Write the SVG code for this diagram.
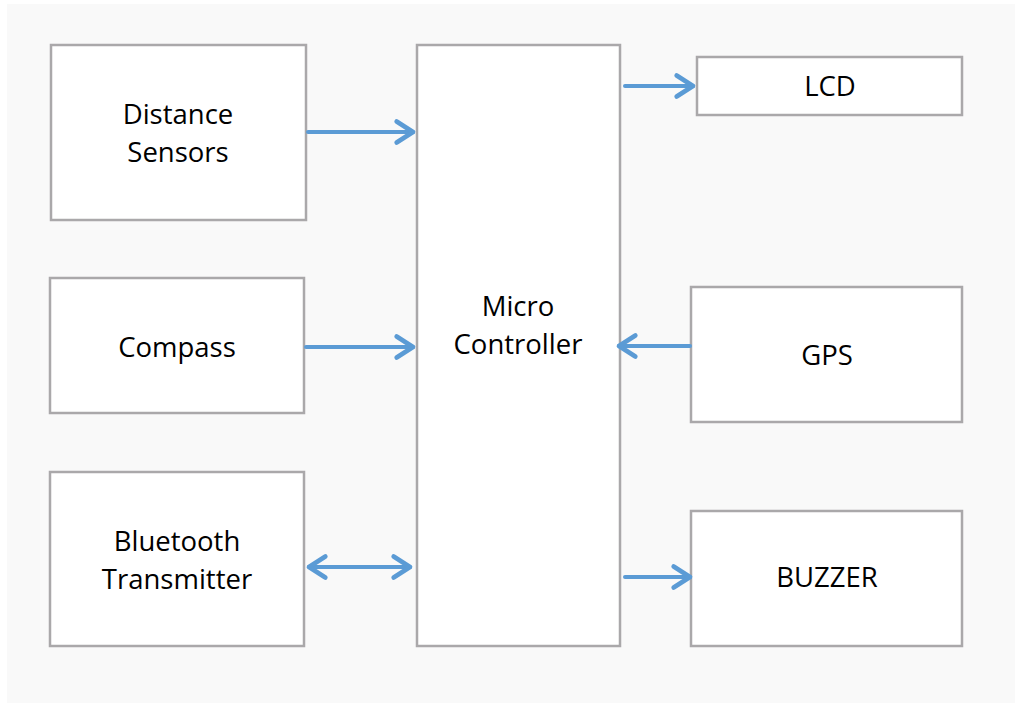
<svg xmlns="http://www.w3.org/2000/svg" width="1015" height="703" viewBox="0 0 1015 703">
<defs>
<style>
.box{fill:#fff;stroke:#aaa8aa;stroke-width:2.5}
.t{font-family:"Open Sans","Liberation Sans",sans-serif;font-size:27.5px;fill:#000;text-anchor:middle}
.c{stroke:#5b9bd5;stroke-width:4;fill:none;stroke-linecap:round;stroke-linejoin:round}
</style>
<marker id="ah" viewBox="0 0 12 12" refX="10" refY="6" markerWidth="7" markerHeight="7" orient="auto-start-reverse" markerUnits="strokeWidth">
<path d="M3,1.5 L10,6 L3,10.5" fill="none" stroke="#5b9bd5" stroke-width="2" stroke-linecap="round" stroke-linejoin="round"/>
</marker>
</defs>
<rect x="7" y="4" width="1008" height="699" fill="#f9f9f9"/>
<g id="distance"><rect class="box" x="51" y="45" width="255" height="175"/><text class="t" x="178" y="124">Distance</text><text class="t" x="178" y="162">Sensors</text></g>
<g id="compass"><rect class="box" x="50" y="278" width="254" height="135"/><text class="t" x="177" y="357">Compass</text></g>
<g id="bluetooth"><rect class="box" x="50" y="472" width="254" height="174"/><text class="t" x="177" y="551">Bluetooth</text><text class="t" x="177" y="589">Transmitter</text></g>
<g id="micro"><rect class="box" x="417" y="45" width="203" height="601"/><text class="t" x="518" y="316">Micro</text><text class="t" x="518" y="354">Controller</text></g>
<g id="lcd"><rect class="box" x="697" y="57" width="265" height="58"/><text class="t" x="830" y="96">LCD</text></g>
<g id="gps"><rect class="box" x="691" y="287" width="271" height="135"/><text class="t" x="827" y="365">GPS</text></g>
<g id="buzzer"><rect class="box" x="691" y="511" width="271" height="135"/><text class="t" x="827" y="587">BUZZER</text></g>
<g id="connectors">
<line class="c" x1="308" y1="132" x2="413" y2="132" marker-end="url(#ah)"/>
<line class="c" x1="306" y1="347" x2="413" y2="347" marker-end="url(#ah)"/>
<line class="c" x1="309" y1="567" x2="410" y2="567" marker-start="url(#ah)" marker-end="url(#ah)"/>
<line class="c" x1="625" y1="86" x2="693" y2="86" marker-end="url(#ah)"/>
<line class="c" x1="690" y1="346" x2="619" y2="346" marker-end="url(#ah)"/>
<line class="c" x1="625" y1="577" x2="690" y2="577" marker-end="url(#ah)"/>
</g>
</svg>
